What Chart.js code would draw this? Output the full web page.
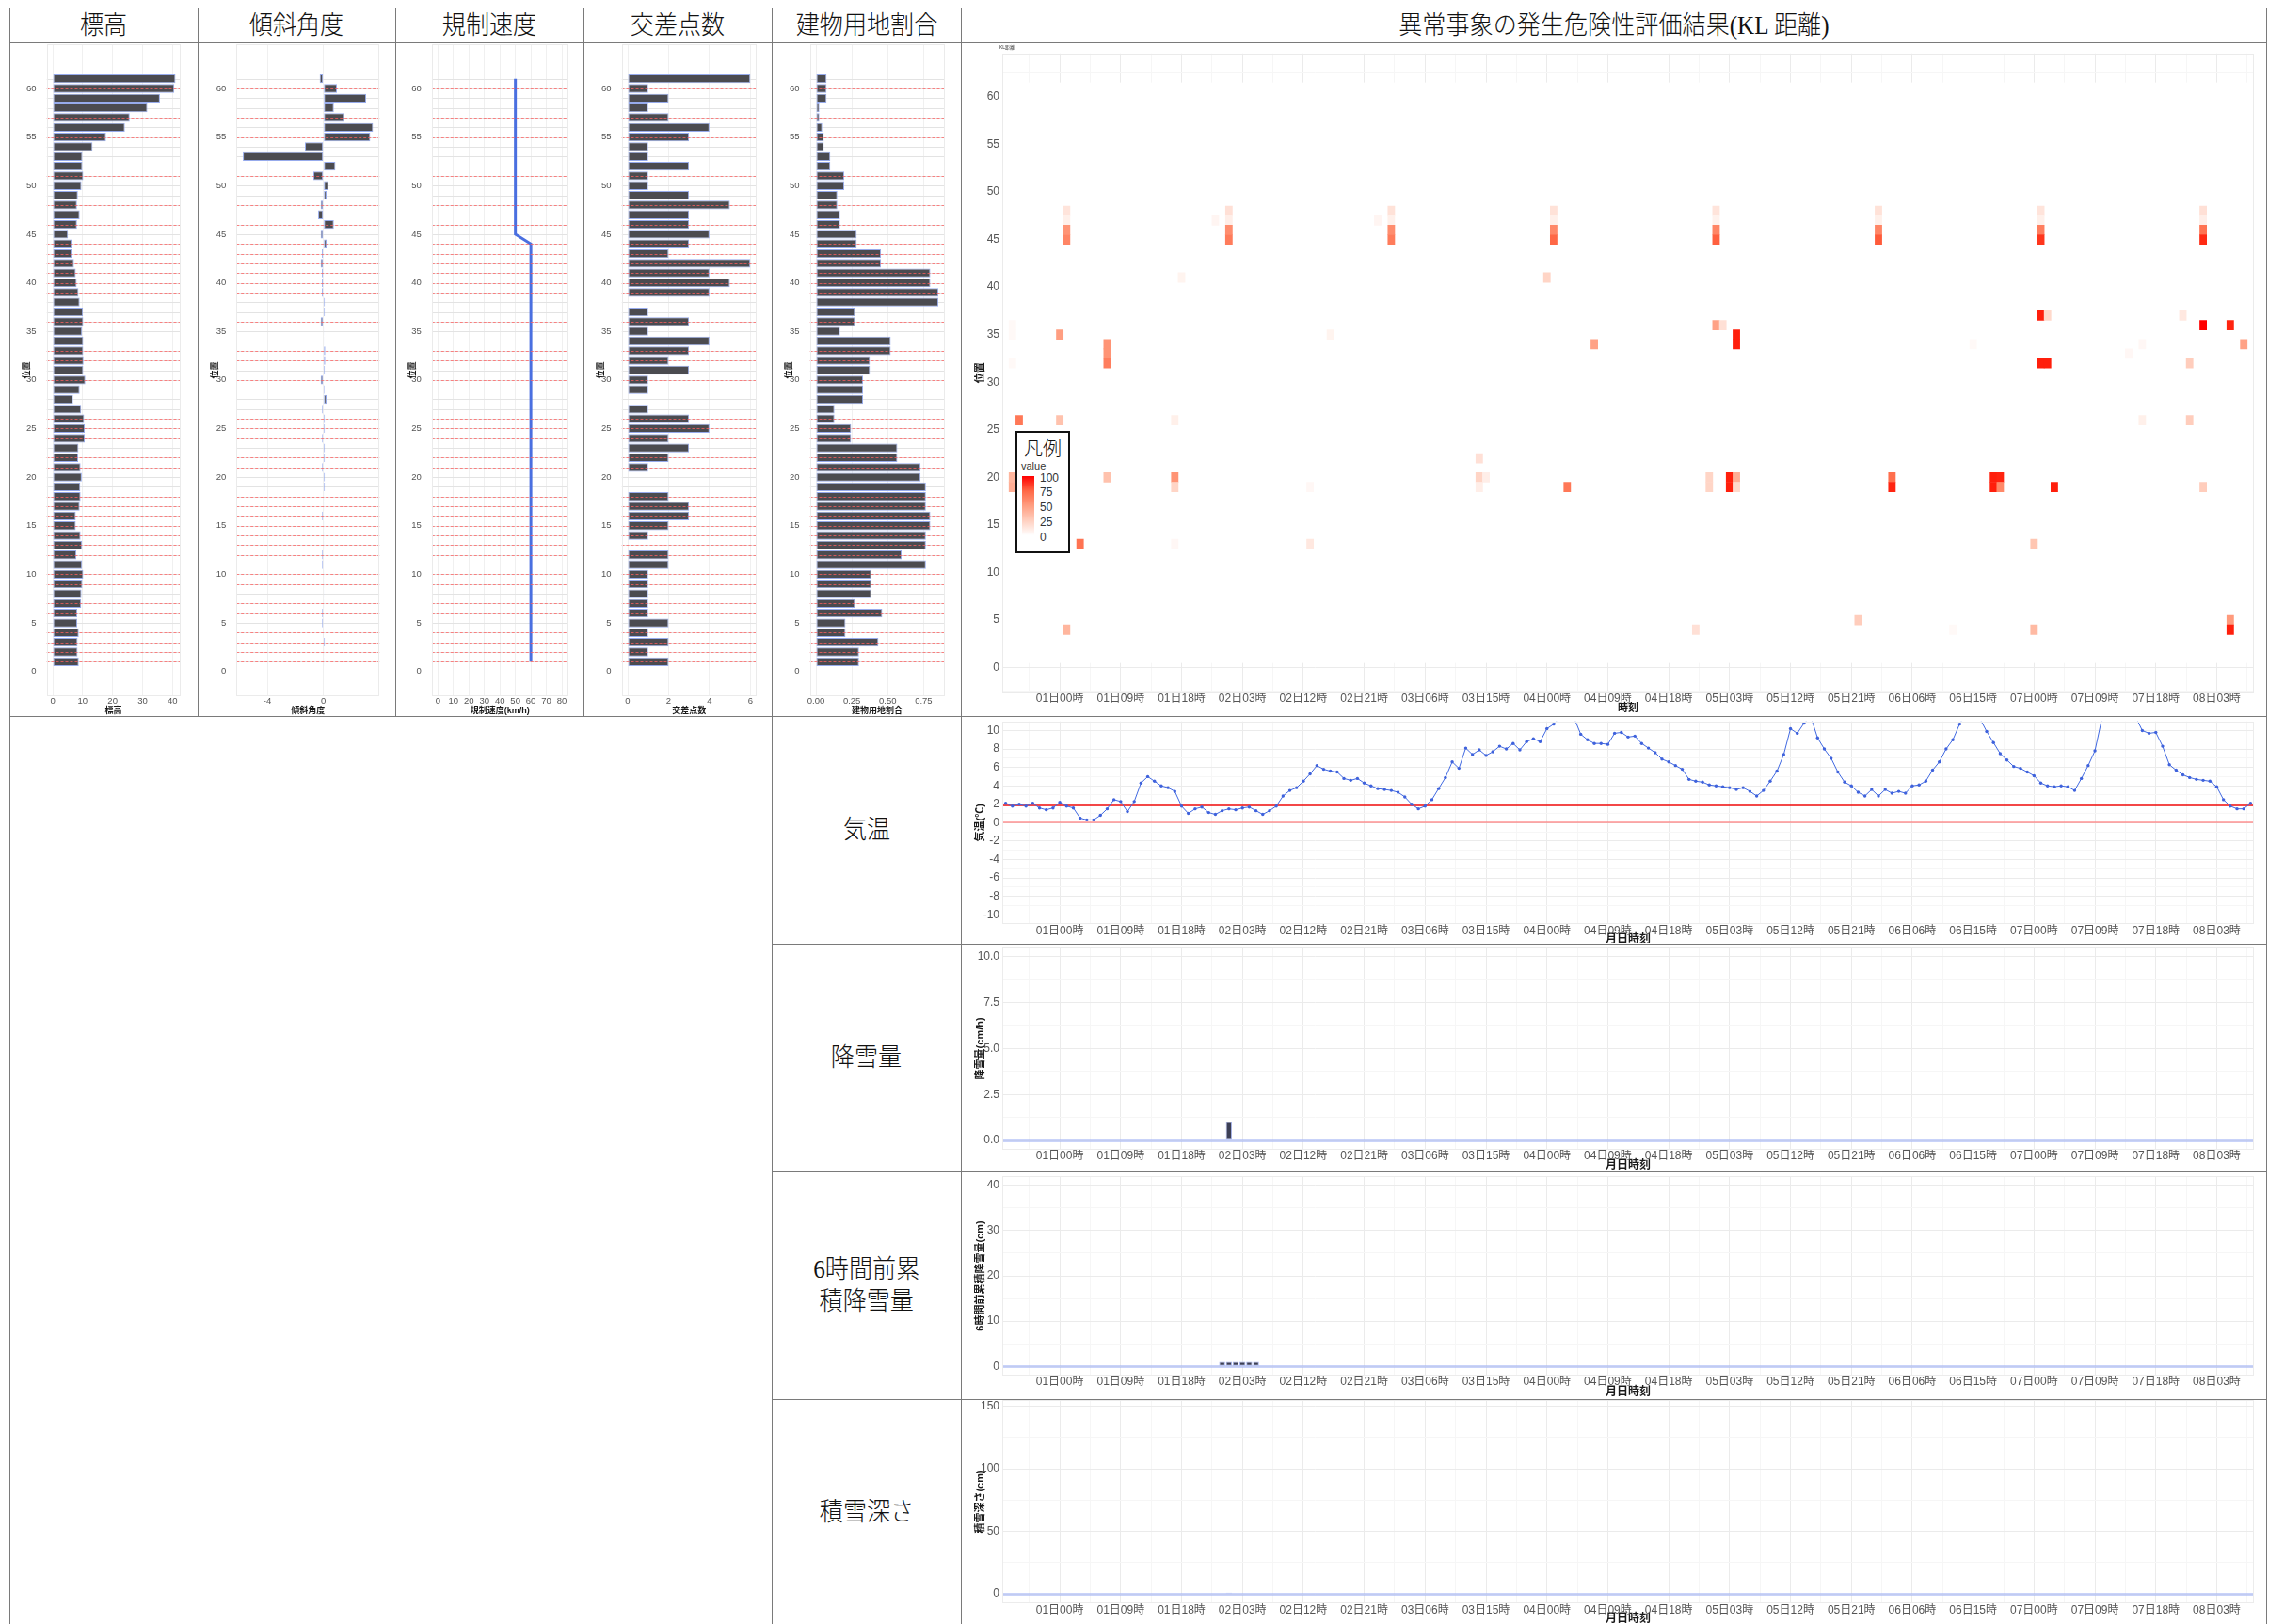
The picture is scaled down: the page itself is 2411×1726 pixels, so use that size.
<!DOCTYPE html>
<html lang="ja">
<head>
<meta charset="utf-8">
<title>異常事象の発生危険性評価結果(KL距離)</title>
<script src="https://cdn.jsdelivr.net/npm/chart.js@4.4.1/dist/chart.umd.min.js"></script>
<style>
  html, body { margin: 0; padding: 0; background: #ffffff; }
  body { position: relative; width: 2411px; height: 1726px; overflow: hidden; }
  canvas { position: absolute; z-index: 1; }
  .rule { position: absolute; background: #7a7a7a; z-index: 3; }
  .cell-text { position: absolute; z-index: 2; display: flex; align-items: center; justify-content: center;
    font-family: "Liberation Serif", "Noto Sans CJK JP", serif; font-size: 27px; font-weight: 300; line-height: 34px; color: #111; }
  .cell-text span { display: inline-block; transform: scaleX(0.93); white-space: pre; text-align: center; }
  .legend { position: absolute; z-index: 4; font-family: "Liberation Sans", "Noto Sans CJK JP", sans-serif; }
</style>
</head>
<body>
<script>
// ================= data =================
// road sections (位置) 1..61
const positions = Array.from({ length: 61 }, (_, i) => i + 1);

// per-section attributes, listed from section 1 to 61
const elevation = [
  8.7, 8.3, 8.3, 8.7, 8.2, 8.2, 9.5, 9.6, 9.9, 10.2,
  9.8, 7.9, 9.8, 9.3, 7.7, 7.7, 9.0, 9.3, 9.2, 9.7,
  9.3, 8.5, 8.6, 10.7, 10.7, 10.5, 9.5, 6.8, 9.0, 10.9,
  10.2, 10.3, 10.2, 10.2, 9.8, 10.2, 10.1, 9.0, 8.6, 8.0,
  7.7, 7.1, 6.3, 6.3, 5.1, 8.1, 9.0, 8.1, 8.4, 9.6,
  10.2, 9.9, 9.9, 13.3, 17.8, 24.1, 25.7, 31.6, 35.8, 40.6,
  41.0
];
const slopeAngle = [
  0.02, 0.02, 0.1, -0.05, -0.1, -0.1, 0.02, 0.02, 0.02, 0.02,
  -0.1, -0.1, 0.02, 0.02, 0.02, -0.1, 0.02, 0.02, 0.1, 0.1,
  -0.1, 0.1, 0.1, -0.1, 0.1, 0.1, -0.1, 0.22, 0.08, -0.2,
  0.1, 0.13, 0.13, 0.02, 0.02, -0.2, 0.1, 0.1, -0.11, -0.11,
  -0.11, -0.2, -0.11, 0.22, -0.2, 0.74, -0.38, -0.2, 0.22, 0.34,
  -0.72, 0.85, -5.74, -1.32, 3.33, 3.53, 1.45, 0.74, 3.04, 0.96,
  -0.27
];
const speedLimit = [
  60, 60, 60, 60, 60, 60, 60, 60, 60, 60,
  60, 60, 60, 60, 60, 60, 60, 60, 60, 60,
  60, 60, 60, 60, 60, 60, 60, 60, 60, 60,
  60, 60, 60, 60, 60, 60, 60, 60, 60, 60,
  60, 60, 60, 60, 50, 50, 50, 50, 50, 50,
  50, 50, 50, 50, 50, 50, 50, 50, 50, 50,
  50
];
const intersections = [
  2, 1, 2, 1, 2, 1, 1, 1, 1, 1,
  2, 2, 0, 1, 2, 3, 3, 2, 0, 0,
  1, 2, 3, 2, 4, 3, 1, 0, 1, 1,
  3, 2, 3, 4, 1, 3, 1, 0, 4, 5,
  4, 6, 2, 3, 4, 3, 3, 5, 3, 1,
  1, 3, 1, 1, 3, 4, 2, 1, 2, 1,
  6
];
const buildingRatio = [
  0.300, 0.300, 0.435, 0.206, 0.206, 0.462, 0.271, 0.385, 0.385, 0.385,
  0.766, 0.597, 0.766, 0.766, 0.797, 0.797, 0.766, 0.766, 0.766, 0.729,
  0.729, 0.567, 0.567, 0.245, 0.245, 0.129, 0.129, 0.328, 0.328, 0.328,
  0.376, 0.376, 0.521, 0.521, 0.168, 0.271, 0.271, 0.853, 0.853, 0.797,
  0.797, 0.453, 0.453, 0.284, 0.284, 0.168, 0.168, 0.149, 0.149, 0.197,
  0.197, 0.100, 0.100, 0.055, 0.055, 0.044, 0.024, 0.024, 0.074, 0.074,
  0.074
];
// sections marked with a dashed guide line
const markedSections = [1, 2, 3, 4, 6, 7, 9, 10, 11, 12, 13, 14, 15, 16, 17, 18, 21, 22, 24, 25, 26,
  30, 32, 33, 34, 36, 39, 40, 41, 42, 43, 44, 46, 48, 51, 52, 55, 57, 60];

// tick labels
const positionTicks = [0, 5, 10, 15, 20, 25, 30, 35, 40, 45, 50, 55, 60];
const elevationTicks = [0, 10, 20, 30, 40];
const slopeTicks = [-4, 0];
const speedTicks = [0, 10, 20, 30, 40, 50, 60, 70, 80];
const intersectionTicks = [0, 2, 4, 6];
const buildingTicks = [0, 0.25, 0.5, 0.75];
const tempTicks = [-10, -8, -6, -4, -2, 0, 2, 4, 6, 8, 10];
const snowfallTicks = [0, 2.5, 5, 7.5, 10];
const snow6hTicks = [0, 10, 20, 30, 40];
const snowDepthTicks = [0, 50, 100, 150];
const legendValues = [100, 75, 50, 25, 0];
const timeTickLabels = ['01日00時', '01日09時', '01日18時', '02日03時', '02日12時', '02日21時', '03日06時',
  '03日15時', '04日00時', '04日09時', '04日18時', '05日03時', '05日12時', '05日21時', '06日06時', '06日15時',
  '07日00時', '07日09時', '07日18時', '08日03時'];

// hourly time categories, hours counted from 01日00時
const TIME_START = -8, TIME_END = 176;
const timeLabels = [];
for (let h = TIME_START; h <= TIME_END; h++) {
  const day = h < 0 ? 31 : Math.floor(h / 24) + 1;
  const hour = ((h % 24) + 24) % 24;
  timeLabels.push(String(day).padStart(2, '0') + '日' + String(hour).padStart(2, '0') + '時');
}

// hourly air temperature (℃), hours -8 .. 176
const temperature = [
  2.1, 1.8, 2.0, 1.8, 2.1, 1.6, 1.4, 1.6, 2.2, 1.8,
  1.6, 0.5, 0.3, 0.3, 0.8, 1.5, 2.5, 2.3, 1.2, 2.3,
  4.3, 5.0, 4.5, 4.0, 3.8, 3.4, 1.8, 1.0, 1.5, 1.7,
  1.1, 0.9, 1.3, 1.5, 1.4, 1.6, 1.7, 1.3, 0.9, 1.3,
  1.8, 2.9, 3.5, 3.8, 4.5, 5.3, 6.2, 5.8, 5.6, 5.5,
  4.8, 4.6, 4.8, 4.3, 4.0, 3.7, 3.6, 3.5, 3.3, 2.8,
  2.0, 1.5, 1.8, 2.5, 3.7, 4.9, 6.6, 5.9, 8.1, 7.4,
  7.9, 7.3, 7.7, 8.3, 8.0, 8.6, 7.9, 8.8, 9.1, 8.8,
  10.2, 10.7, 11.5, 12.0, 11.4, 9.6, 9.0, 8.6, 8.6, 8.5,
  9.7, 9.8, 9.3, 9.4, 8.6, 8.1, 7.6, 6.9, 6.6, 6.2,
  5.8, 4.7, 4.5, 4.4, 4.1, 4.0, 3.9, 3.8, 3.6, 3.8,
  3.4, 2.9, 3.5, 4.5, 5.6, 7.4, 10.2, 9.7, 10.8, 11.5,
  9.2, 8.0, 7.0, 5.5, 4.4, 4.0, 3.3, 2.9, 3.6, 2.9,
  3.6, 3.2, 3.4, 3.2, 4.0, 4.1, 4.5, 5.7, 6.6, 8.0,
  9.0, 10.7, 12.0, 12.5, 11.3, 9.9, 8.7, 7.5, 6.8, 6.1,
  5.9, 5.5, 5.1, 4.3, 4.0, 3.9, 4.0, 3.9, 3.5, 4.8,
  6.2, 7.8, 11.2, 12.5, 13.0, 13.0, 12.5, 11.5, 10.0, 9.7,
  9.8, 8.3, 6.3, 5.7, 5.2, 4.9, 4.7, 4.6, 4.5, 3.9,
  2.5, 1.8, 1.5, 1.5, 2.1
];
const TEMP_THRESHOLD = 2;

// snow observations (hour, value); all other hours are 0
const snowfallHours = [25];
const snowfallValues = [1.0];
const snow6hHours = [24, 25, 26, 27, 28, 29];
const snow6hValues = [1, 1, 1, 1, 1, 1];
const snowDepthHours = [25];
const snowDepthValues = [1];

// KL-distance risk cells (hour, section, value 0-100)
const heatHours = [
  1, 1, 1, 1, 25, 25, 25, 25, 49, 49, 49, 49, 73, 73, 73, 73,
  97, 97, 97, 97, 121, 121, 121, 121, 145, 145, 145, 145, 169, 169, 169, 169,
  23, 47, -7, -7, -7, 0, 7, 7, 7, 18, 40, 72, 79, -6, 0, 17,
  -7, -7, 7, 17, 17, 37, 62, 62, 63, 62, 75, 3, 17, 37, 1,
  97, 98, 100, 100, 135, 145, 146, 145, 146,
  158, 160, 166, 169, 173, 175, 167, 160, 167,
  96, 96, 99, 99, 100, 100, 123, 123, 138, 138, 139, 139,
  147, 169, 144, 94, 118, 132, 144, 173, 173
];
const heatPositions = [
  48, 47, 46, 45, 48, 47, 46, 45, 48, 47, 46, 45, 48, 47, 46, 45,
  48, 47, 46, 45, 48, 47, 46, 45, 48, 47, 46, 45, 48, 47, 46, 45,
  47, 47, 36, 35, 32, 35, 34, 33, 32, 41, 35, 41, 34, 26, 26, 26,
  20, 19, 20, 20, 19, 19, 22, 20, 20, 19, 19, 13, 13, 13, 4,
  36, 36, 35, 34, 34, 37, 37, 32, 32,
  33, 34, 37, 36, 36, 34, 32, 26, 26,
  20, 19, 20, 19, 20, 19, 20, 19, 20, 19, 20, 19,
  19, 19, 13, 4, 5, 4, 4, 5, 4
];
const heatValues = [
  14, 8, 55, 62, 16, 9, 58, 66, 15, 8, 58, 66, 15, 8, 60, 75,
  14, 7, 62, 78, 15, 8, 62, 80, 14, 8, 65, 92, 16, 9, 70, 95,
  5, 5, 3, 3, 3, 50, 55, 55, 65, 6, 6, 22, 48, 68, 32, 8,
  38, 42, 32, 55, 22, 4, 16, 22, 9, 9, 68, 70, 4, 12, 38,
  48, 16, 97, 97, 3, 97, 20, 97, 97,
  4, 4, 12, 100, 96, 48, 26, 8, 26,
  22, 22, 97, 97, 42, 20, 72, 96, 97, 97, 96, 60,
  97, 26, 30, 16, 26, 3, 36, 52, 97
];

// ================= styling =================
Chart.defaults.font.family = '"Liberation Sans", "Noto Sans CJK JP", sans-serif';
Chart.defaults.animation = false;
Chart.defaults.responsive = false;
Chart.defaults.devicePixelRatio = 1;
Chart.defaults.plugins.legend.display = false;
Chart.defaults.plugins.tooltip.enabled = false;

const TICK_COLOR = '#555555';
const TITLE_COLOR = '#1a1a1a';
const BAR_FILL = '#4b4b50';
const BAR_EDGE = '#97abec';
const gridColor = c => (c.tick && c.tick.major) ? '#ebebeb' : '#f6f6f6';

// white -> red colour ramp interpolated in CIELAB
function heatColor(v) {
  const t = Math.max(0, Math.min(1, v / 100));
  const L = 100 + (53.24 - 100) * t, A = 80.09 * t, B = 67.20 * t;
  const fy = (L + 16) / 116, fx = fy + A / 500, fz = fy - B / 200;
  const f = u => (u ** 3 > 0.008856 ? u ** 3 : (u - 16 / 116) / 7.787);
  const X = 0.95047 * f(fx), Y = f(fy), Z = 1.08883 * f(fz);
  const r = 3.2406 * X - 1.5372 * Y - 0.4986 * Z;
  const g = -0.9689 * X + 1.8758 * Y + 0.0415 * Z;
  const b = 0.0557 * X - 0.2040 * Y + 1.0570 * Z;
  const gam = c => Math.round(255 * Math.max(0, Math.min(1, c <= 0.0031308 ? 12.92 * c : 1.055 * c ** (1 / 2.4) - 0.055)));
  return `rgb(${gam(r)},${gam(g)},${gam(b)})`;
}

// ================= page helpers =================
function addDiv(cls, x, y, w, h, style) {
  const d = document.createElement('div');
  d.className = cls;
  Object.assign(d.style, { left: x + 'px', top: y + 'px', width: w + 'px', height: h + 'px' }, style || {});
  document.body.appendChild(d);
  return d;
}
function hRule(x1, x2, y) { addDiv('rule', x1, y, x2 - x1 + 1, 1); }
function vRule(x, y1, y2) { addDiv('rule', x, y1, 1, y2 - y1 + 1); }
function cellText(text, x1, x2, y1, y2) {
  const d = addDiv('cell-text', x1, y1, x2 - x1, y2 - y1);
  const s = document.createElement('span');
  s.textContent = text;
  d.appendChild(s);
}

// canvas placed in a box, with the plot rectangle pinned to given page coordinates
function placeChart(box, plot) {
  const canvas = document.createElement('canvas');
  canvas.width = box.w; canvas.height = box.h;
  Object.assign(canvas.style, { left: box.x + 'px', top: box.y + 'px', width: box.w + 'px', height: box.h + 'px' });
  document.body.appendChild(canvas);
  return {
    canvas,
    padding: { top: plot.top - box.y, right: box.x + box.w - plot.right, bottom: 0, left: 0 },
    yWidth: plot.left - box.x,
    xHeight: box.y + box.h - plot.bottom
  };
}
const zeroPad = s => { s.paddingTop = 0; s.paddingBottom = 0; s.paddingLeft = 0; s.paddingRight = 0; };
const fixWidth = w => s => { s.width = w; zeroPad(s); };
const fixHeight = h => s => { s.height = h; zeroPad(s); };
function setTicks(majors, minors) {
  return s => {
    s.ticks = majors.map(v => ({ value: v, major: true }))
      .concat((minors || []).map(v => ({ value: v, major: false })))
      .sort((a, b) => a.value - b.value);
  };
}
const midpoints = arr => arr.slice(1).map((v, i) => (v + arr[i]) / 2);

// ---- plugins ----
function strokeRows(chart, groups) {
  if (!groups) return;
  const { ctx, chartArea: a } = chart;
  const y = chart.scales.y;
  ctx.save();
  ctx.beginPath(); ctx.rect(a.left, a.top, a.right - a.left, a.bottom - a.top); ctx.clip();
  groups.forEach(g => {
    ctx.strokeStyle = g.color; ctx.lineWidth = g.width; ctx.setLineDash(g.dash || []);
    g.values.forEach(v => {
      const p = y.getPixelForValue(v);
      const py = g.width % 2 === 1 ? Math.round(p) + 0.5 : Math.round(p);
      ctx.beginPath(); ctx.moveTo(a.left, py); ctx.lineTo(a.right, py); ctx.stroke();
    });
  });
  ctx.restore();
}
function rowGuides(below, above) {
  return { id: 'rowGuides', beforeDatasetsDraw: c => strokeRows(c, below), afterDatasetsDraw: c => strokeRows(c, above) };
}
function panelFrame(color) {
  return {
    id: 'panelFrame',
    afterDatasetsDraw(c) {
      const a = c.chartArea, ctx = c.ctx;
      ctx.save(); ctx.strokeStyle = color; ctx.lineWidth = 1;
      ctx.strokeRect(Math.round(a.left) + 0.5, Math.round(a.top) + 0.5, Math.round(a.right - a.left) - 1, Math.round(a.bottom - a.top) - 1);
      ctx.restore();
    }
  };
}
function tileBackground(lo, hi) {
  return {
    id: 'tileBackground',
    beforeDatasetsDraw(c) {
      const a = c.chartArea, y = c.scales.y;
      const top = y.getPixelForValue(hi), bottom = y.getPixelForValue(lo);
      c.ctx.save(); c.ctx.fillStyle = '#ffffff';
      c.ctx.fillRect(a.left, top, a.right - a.left, bottom - top);
      c.ctx.restore();
    }
  };
}

// ---- axis builders ----
function timeAxis(xHeight, titleText, titleSize, titleBottom) {
  const majors = timeTickLabels.map(l => timeLabels.indexOf(l));
  const minors = [majors[0] - 4.5].concat(majors.map(i => i + 4.5));
  return {
    type: 'category', offset: true,
    afterBuildTicks: setTicks(majors, minors),
    afterFit: fixHeight(xHeight),
    grid: { offset: false, drawTicks: false, color: gridColor },
    border: { display: false },
    ticks: { autoSkip: false, maxRotation: 0, minRotation: 0, padding: 0, color: TICK_COLOR, font: { size: 12 },
      callback: (v, i, t) => (t[i].major ? timeLabels[v] : '') },
    title: { display: true, text: titleText, color: TITLE_COLOR, font: { size: titleSize, weight: 'bold' },
      padding: { top: 0, bottom: titleBottom } }
  };
}
function valueAxis(o) {
  return {
    type: 'linear', position: 'left', min: o.min, max: o.max, bounds: 'data', offset: false,
    afterBuildTicks: setTicks(o.ticks, o.minor),
    afterFit: fixWidth(o.width),
    grid: o.noGrid ? { display: false } : { offset: false, drawTicks: false, color: gridColor },
    border: { display: false },
    ticks: { autoSkip: false, padding: 3, color: TICK_COLOR, font: { size: o.fontSize },
      callback: (v, i, t) => (t[i].major ? o.fmt(v) : '') },
    title: { display: true, text: o.title, color: TITLE_COLOR, font: { size: o.titleSize, weight: 'bold' },
      padding: { top: o.titleOffset, bottom: 0 } }
  };
}

// ================= table frame and labels =================
const COLS = [10, 210, 420, 620, 820, 1021, 2408];
hRule(10, 2408, 8);
hRule(10, 2408, 45);
hRule(10, 2408, 761);
[1003, 1245, 1487].forEach(y => hRule(820, 2408, y));
[10, 820, 1021, 2408].forEach(x => vRule(x, 8, 1726));
[210, 420, 620].forEach(x => vRule(x, 8, 761));

const headers = ['標高', '傾斜角度', '規制速度', '交差点数', '建物用地割合', '異常事象の発生危険性評価結果(KL 距離)'];
headers.forEach((t, i) => cellText(t, COLS[i], COLS[i + 1], 8, 45));
const rowTitles = ['気温', '降雪量', '6時間前累\n積降雪量', '積雪深さ'];
const ROWS = [761, 1003, 1245, 1487, 1726];
rowTitles.forEach((t, i) => cellText(t, 820, 1021, ROWS[i], ROWS[i + 1]));

// ================= section attribute panels =================
const SECTION_RANGE = { min: -2.55, max: 64.55 };
const sectionPanels = [
  { cell: [10, 210], plot: [49.5, 191.4], min: -2.05, max: 42.55, ticks: elevationTicks, fmt: v => String(v), title: '標高', values: elevation, kind: 'bar' },
  { cell: [210, 420], plot: [251.2, 403.4], min: -6.2, max: 4.0, ticks: slopeTicks, fmt: v => String(v), title: '傾斜角度', values: slopeAngle, kind: 'bar' },
  { cell: [420, 620], plot: [458.8, 603.6], min: -4, max: 84, ticks: speedTicks, fmt: v => String(v), title: '規制速度(km/h)', values: speedLimit, kind: 'line' },
  { cell: [620, 820], plot: [660.5, 803.8], min: -0.3, max: 6.3, ticks: intersectionTicks, fmt: v => String(v), title: '交差点数', values: intersections, kind: 'bar' },
  { cell: [820, 1021], plot: [860.5, 1003.6], min: -0.0427, max: 0.8957, ticks: buildingTicks, fmt: v => v.toFixed(2), title: '建物用地割合', values: buildingRatio, kind: 'bar' }
];

sectionPanels.forEach(p => {
  const box = { x: p.cell[0] + 1, y: 46, w: p.cell[1] - p.cell[0] - 1, h: 714 };
  const L = placeChart(box, { left: p.plot[0], right: p.plot[1], top: 47, bottom: 740 });
  const points = p.values.map((v, i) => ({ x: v, y: positions[i] }));
  const dataset = p.kind === 'bar'
    ? { data: points, backgroundColor: BAR_FILL, borderColor: BAR_EDGE, borderWidth: 1, borderSkipped: false,
        barPercentage: 0.9, categoryPercentage: 1 }
    : { data: points, showLine: true, borderColor: '#4a6fe0', borderWidth: 3, pointRadius: 0, fill: false };
  new Chart(L.canvas, {
    type: p.kind === 'bar' ? 'bar' : 'scatter',
    data: { datasets: [dataset] },
    options: {
      indexAxis: p.kind === 'bar' ? 'y' : 'x',
      layout: { padding: L.padding },
      scales: {
        x: {
          type: 'linear', position: 'bottom', min: p.min, max: p.max, bounds: 'data', offset: false,
          afterBuildTicks: setTicks(p.ticks),
          afterFit: fixHeight(L.xHeight),
          grid: { offset: false, drawTicks: false, color: '#f0f0f0' },
          border: { display: false },
          ticks: { autoSkip: false, maxRotation: 0, minRotation: 0, padding: 0, color: TICK_COLOR, font: { size: 9.5 },
            callback: (v, i, t) => (t[i].major ? p.fmt(v) : '') },
          title: { display: true, text: p.title, color: TITLE_COLOR, font: { size: 9, weight: 'bold', lineHeight: 1.1 },
            padding: { top: 0, bottom: 0 } }
        },
        y: valueAxis({ min: SECTION_RANGE.min, max: SECTION_RANGE.max, ticks: positionTicks, width: L.yWidth,
          fontSize: 9.5, fmt: v => String(v), title: '位置', titleSize: 9, titleOffset: 12.6, noGrid: true })
      }
    },
    plugins: [
      rowGuides([{ values: positions, color: '#e3e3e3', width: 1 }],
                [{ values: markedSections, color: 'rgba(255,95,95,0.75)', width: 1, dash: [3, 2] }]),
      panelFrame('#ebebeb')
    ]
  });
});

// ================= KL-distance heat map =================
{
  const L = placeChart({ x: 1022, y: 46, w: 1384, h: 714 }, { left: 1065, right: 2395, top: 56.8, bottom: 735.5 });
  const cells = heatHours.map((h, i) => ({ x: timeLabels[h - TIME_START], y: [heatPositions[i] - 0.5, heatPositions[i] + 0.5] }));
  new Chart(L.canvas, {
    type: 'bar',
    data: {
      labels: timeLabels,
      datasets: [{ data: cells, backgroundColor: c => heatColor(heatValues[c.dataIndex]), borderWidth: 0,
        borderSkipped: false, barPercentage: 1, categoryPercentage: 1 }]
    },
    options: {
      layout: { padding: L.padding },
      scales: {
        x: timeAxis(L.xHeight, '時刻', 11, 0.4),
        y: valueAxis({ min: SECTION_RANGE.min, max: SECTION_RANGE.max, ticks: positionTicks, minor: midpoints([-5].concat(positionTicks, [65])),
          width: L.yWidth, fontSize: 12, fmt: v => String(v), title: '位置', titleSize: 11, titleOffset: 13.4 })
      }
    },
    plugins: [tileBackground(positions[0] - 0.5, positions[positions.length - 1] + 0.5), panelFrame('#ebebeb')]
  });

  // colour legend
  addDiv('legend', 1079, 458, 54, 126, { border: '2px solid #111', background: '#fff' });
  addDiv('legend', 1079, 463, 58, 26, { fontFamily: '"Noto Sans CJK JP", serif', fontSize: '20px', fontWeight: '300', lineHeight: '26px', textAlign: 'center', color: '#111' })
    .textContent = '凡例';
  addDiv('legend', 1085, 488, 40, 14, { fontSize: '11px', lineHeight: '14px', color: '#333' }).textContent = 'value';
  addDiv('legend', 1086, 506, 13, 63, {
    background: 'linear-gradient(to bottom, ' + legendValues.map(v => heatColor(v)).join(', ') + ')'
  });
  legendValues.forEach(v => {
    const cy = 507.5 + (100 - v) / 100 * 63;
    addDiv('legend', 1105, cy - 7, 30, 14, { fontSize: '12px', lineHeight: '14px', color: '#333' }).textContent = String(v);
  });
  addDiv('legend', 1062, 47, 30, 7, { fontSize: '5px', lineHeight: '7px', color: '#333' }).textContent = 'KL距離';
}

// ================= weather time series =================
function hourlySeries(hours, values) {
  const arr = timeLabels.map(() => 0);
  hours.forEach((h, i) => { arr[h - TIME_START] = values[i]; });
  return arr;
}
const zeroBand = { values: [0], color: 'rgba(165,182,245,0.6)', width: 3 };

// air temperature
{
  const L = placeChart({ x: 1022, y: 762, w: 1384, h: 240 }, { left: 1065, right: 2395, top: 766.7, bottom: 982 });
  new Chart(L.canvas, {
    type: 'line',
    data: { labels: timeLabels, datasets: [{ data: temperature, borderColor: '#4169e1', borderWidth: 1,
      pointRadius: 1.7, pointBackgroundColor: '#3f62dc', pointBorderWidth: 0, tension: 0 }] },
    options: {
      layout: { padding: L.padding },
      scales: {
        x: timeAxis(L.xHeight, '月日時刻', 12, -3.7),
        y: valueAxis({ min: -11, max: 11, ticks: tempTicks, minor: midpoints(tempTicks), width: L.yWidth, fontSize: 12,
          fmt: v => String(v), title: '気温(℃)', titleSize: 11, titleOffset: 13.4 })
      }
    },
    plugins: [rowGuides([
      { values: [0], color: 'rgba(255,120,120,0.6)', width: 2 },
      { values: [TEMP_THRESHOLD], color: 'rgba(240,25,25,0.8)', width: 3 }
    ], null), panelFrame('#ececec')]
  });
}

// snow bar panels
const snowPanels = [
  { box: { x: 1022, y: 1004, w: 1384, h: 240 }, plot: { top: 1007, bottom: 1221.8 }, min: -0.5, max: 10.5,
    ticks: snowfallTicks, fmt: v => v.toFixed(1), title: '降雪量(cm/h)', hours: snowfallHours, values: snowfallValues, titleBottom: -1.5 },
  { box: { x: 1022, y: 1246, w: 1384, h: 240 }, plot: { top: 1250.1, bottom: 1461.9 }, min: -2, max: 42,
    ticks: snow6hTicks, fmt: v => String(v), title: '6時間前累積降雪量(cm)', hours: snow6hHours, values: snow6hValues, titleBottom: -1.2 },
  { box: { x: 1022, y: 1488, w: 1384, h: 238 }, plot: { top: 1488, bottom: 1704 }, min: -7.5, max: 155,
    ticks: snowDepthTicks, fmt: v => String(v), title: '積雪深さ(cm)', hours: snowDepthHours, values: snowDepthValues, titleBottom: -1.8 }
];
snowPanels.forEach(p => {
  const L = placeChart(p.box, { left: 1065, right: 2395, top: p.plot.top, bottom: p.plot.bottom });
  new Chart(L.canvas, {
    type: 'bar',
    data: { labels: timeLabels, datasets: [{ data: hourlySeries(p.hours, p.values), backgroundColor: '#3c3f55',
      borderColor: '#a9b6ee', borderWidth: 1, borderSkipped: false, barPercentage: 0.9, categoryPercentage: 1 }] },
    options: {
      layout: { padding: L.padding },
      scales: {
        x: timeAxis(L.xHeight, '月日時刻', 12, p.titleBottom),
        y: valueAxis({ min: p.min, max: p.max, ticks: p.ticks, minor: midpoints(p.ticks), width: L.yWidth, fontSize: 12,
          fmt: p.fmt, title: p.title, titleSize: 11, titleOffset: 13.4 })
      }
    },
    plugins: [rowGuides([zeroBand], null), panelFrame('#ececec')]
  });
});
</script>
</body>
</html>
